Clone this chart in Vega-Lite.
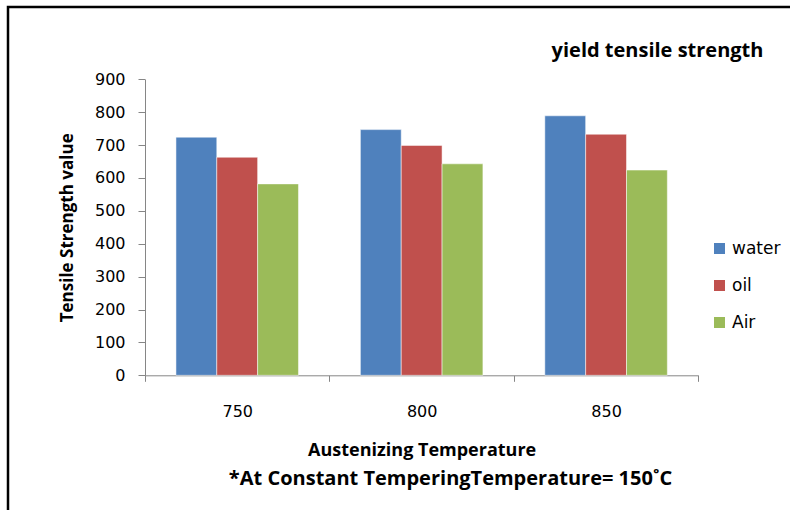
{
  "$schema": "https://vega.github.io/schema/vega-lite/v6.json",
  "width": 788,
  "height": 509,
  "autosize": {"type": "none"},
  "padding": {"left": 8, "top": 7, "right": -6, "bottom": -6},
  "background": "white",
  "config": {
    "view": {"stroke": "#000000", "strokeWidth": 2.5},
    "axis": {"grid": false}
  },
  "data": {
    "values": [
      {"temp": "750", "medium": "water", "value": 724},
      {"temp": "750", "medium": "oil", "value": 663},
      {"temp": "750", "medium": "Air", "value": 582},
      {"temp": "800", "medium": "water", "value": 747},
      {"temp": "800", "medium": "oil", "value": 699},
      {"temp": "800", "medium": "Air", "value": 643},
      {"temp": "850", "medium": "water", "value": 789},
      {"temp": "850", "medium": "oil", "value": 733},
      {"temp": "850", "medium": "Air", "value": 624}
    ]
  },
  "layer": [
    {
      "mark": {"type": "bar", "stroke": "#ffffff", "strokeOpacity": 0.5, "strokeWidth": 1},
      "encoding": {
        "x": {
          "field": "temp",
          "type": "nominal",
          "scale": {"range": [137, 690.3], "paddingInner": 0, "paddingOuter": 0},
          "axis": {
            "orient": "bottom",
            "offset": -140.7,
            "labelAngle": 0,
            "tickBand": "extent",
            "domainColor": "#868686",
            "tickColor": "#868686",
            "tickSize": 6,
            "labelPadding": 22,
            "labelFont": "DejaVu Sans",
            "labelFontSize": 16,
            "labelColor": "#000000",
            "title": "Austenizing Temperature",
            "titleFont": "Open Sans",
            "titleFontSize": 18,
            "titleFontWeight": "bold",
            "titleColor": "#000000",
            "titlePadding": 22
          }
        },
        "xOffset": {
          "field": "medium",
          "type": "nominal",
          "sort": ["water", "oil", "Air"],
          "scale": {"paddingInner": 0, "paddingOuter": 0.758}
        },
        "y": {
          "field": "value",
          "type": "quantitative",
          "scale": {"domain": [0, 900], "range": [368.3, 72.3], "nice": false},
          "axis": {
            "orient": "left",
            "offset": -137,
            "values": [0, 100, 200, 300, 400, 500, 600, 700, 800, 900],
            "domainColor": "#868686",
            "tickColor": "#868686",
            "tickSize": 7,
            "labelPadding": 13,
            "labelFont": "DejaVu Sans",
            "labelFontSize": 16,
            "labelColor": "#000000",
            "title": "Tensile Strength value",
            "titleFont": "Open Sans",
            "titleFontSize": 17,
            "titleFontWeight": "bold",
            "titleColor": "#000000",
            "titlePadding": 18
          }
        },
        "color": {
          "field": "medium",
          "type": "nominal",
          "sort": ["water", "oil", "Air"],
          "scale": {"domain": ["water", "oil", "Air"], "range": ["#4F81BD", "#C0504D", "#9BBB59"]},
          "legend": {
            "orient": "none",
            "legendX": 703,
            "legendY": 233,
            "title": null,
            "symbolType": "square",
            "symbolSize": 121,
            "symbolStrokeWidth": 0,
            "symbolOpacity": 1,
            "labelFont": "DejaVu Sans",
            "labelFontSize": 17,
            "labelColor": "#000000",
            "labelOffset": 4,
            "rowPadding": 19
          }
        }
      }
    },
    {
      "mark": {"type": "bar", "opacity": 0},
      "encoding": {
        "x": {
          "field": "temp",
          "type": "nominal",
          "axis": {
            "orient": "bottom",
            "offset": -140.7,
            "labels": false,
            "ticks": false,
            "domain": false,
            "title": "*At Constant TemperingTemperature= 150˚C",
            "titleX": 442,
            "titleY": 103,
            "titleAlign": "center",
            "titleAnchor": null,
            "titleBaseline": "middle",
            "titleFont": "Open Sans",
            "titleFontSize": 20,
            "titleFontWeight": "bold",
            "titleColor": "#000000"
          }
        }
      }
    },
    {
      "mark": {"type": "bar", "opacity": 0},
      "encoding": {
        "x": {
          "field": "temp",
          "type": "nominal",
          "axis": {
            "orient": "top",
            "offset": 0,
            "labels": false,
            "ticks": false,
            "domain": false,
            "title": "yield tensile strength",
            "titleX": 649,
            "titleY": 43,
            "titleAlign": "center",
            "titleAnchor": null,
            "titleBaseline": "middle",
            "titleFont": "Open Sans",
            "titleFontSize": 20,
            "titleFontWeight": "bold",
            "titleColor": "#000000"
          }
        }
      }
    }
  ],
  "resolve": {"axis": {"x": "independent"}}
}
